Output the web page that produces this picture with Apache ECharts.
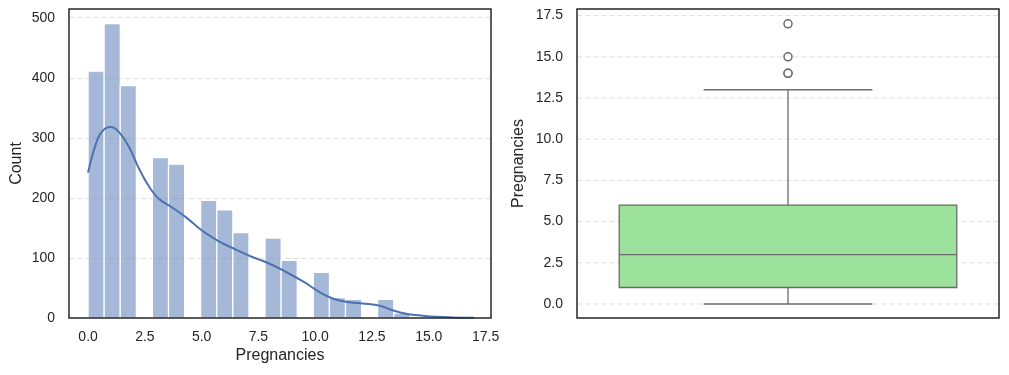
<!DOCTYPE html>
<html>
<head>
<meta charset="utf-8">
<script src="https://cdn.jsdelivr.net/npm/echarts@6/dist/echarts.min.js"></script>
<style>
  html, body { margin: 0; padding: 0; background: #fff; }
  #chart { width: 1009px; height: 375px; }
</style>
</head>
<body>
<div id="chart"></div>
<script>
// histogram of Pregnancies (24 bins over 0..17)
var binCount = 24;
var binMax = 17;
var binIndex = [0, 1, 2, 4, 5, 7, 8, 9, 11, 12, 14, 15, 16, 18, 19, 21, 23];
var counts = [411, 490, 387, 267, 256, 196, 180, 142, 133, 96, 76, 34, 31, 31, 8, 2, 2];

// kde curve (in count units)
var kdeX = [0, 0.3, 0.6, 1.0, 1.35, 1.8, 2.2, 2.65, 3.1, 3.7, 4.3, 5.0, 5.7, 6.5, 7.2, 7.9,
  8.7, 9.5, 10.2, 10.8, 11.4, 12.1, 12.85, 13.4, 14.0, 14.6, 15.3, 16.0, 17.0];
var kdeY = [242, 285, 310, 318, 310, 285, 252, 221, 199, 184, 168, 146, 129, 114, 102, 92,
  77, 60, 43, 32, 26.5, 24, 20.5, 13, 7, 4.4, 2, 1, 0.5];

// boxplot: whisker low, q1, median, q3, whisker high
var boxStats = [0, 1, 3, 6, 13];
var outliers = [14, 14, 15, 17];

// tick labels for the axes whose range does not start on a tick
var histXTicks = [0, 2.5, 5, 7.5, 10, 12.5, 15, 17.5];
var boxYTicks = [0, 2.5, 5, 7.5, 10, 12.5, 15, 17.5];

var textColor = '#262626';
var gridColor = '#dedede';
var lineGray = '#6b6b6b';
var font = 'Liberation Sans, Arial, sans-serif';
var tickFont = '14px ' + font;

var binWidth = binMax / binCount;
var histData = binIndex.map(function (b, i) {
  return [b * binWidth, (b + 1) * binWidth, counts[i]];
});
var kdeData = kdeX.map(function (x, i) { return [x, kdeY[i]]; });
var outlierData = outliers.map(function (v) { return [0, v]; });

var chart = echarts.init(document.getElementById('chart'));

var labelStyle = { color: textColor, fontSize: 14, fontFamily: font };
var nameStyle = { color: textColor, fontSize: 16, fontFamily: font };
var hidden = { show: false };

var option = {
  animation: false,
  grid: [
    { left: 69, top: 9, width: 422, height: 309 },
    { left: 577, top: 9, width: 422, height: 309 }
  ],
  graphic: [
    { type: 'rect', z: 100, silent: true,
      shape: { x: 69, y: 9, width: 422, height: 309 }, style: { fill: null, stroke: '#262626', lineWidth: 1.5 } },
    { type: 'rect', z: 100, silent: true,
      shape: { x: 577, y: 9, width: 422, height: 309 }, style: { fill: null, stroke: '#262626', lineWidth: 1.5 } }
  ],
  xAxis: [
    {
      gridIndex: 0, type: 'value', min: -0.84, max: 17.74,
      axisLine: hidden, axisTick: hidden, splitLine: hidden, axisLabel: hidden,
      name: 'Pregnancies', nameLocation: 'middle', nameGap: 30, nameTextStyle: nameStyle
    },
    {
      gridIndex: 1, type: 'value', min: -0.5, max: 0.5,
      axisLine: hidden, axisTick: hidden, splitLine: hidden, axisLabel: hidden
    }
  ],
  yAxis: [
    {
      gridIndex: 0, type: 'value', min: 0, max: 514.5, interval: 100,
      axisLine: hidden, axisTick: hidden,
      splitLine: { show: true, showMinLine: false, showMaxLine: false,
        lineStyle: { color: gridColor, type: [5, 3], width: 1 } },
      axisLabel: Object.assign({ margin: 14, showMaxLabel: false }, labelStyle),
      name: 'Count', nameLocation: 'middle', nameGap: 44, nameTextStyle: nameStyle
    },
    {
      gridIndex: 1, type: 'value', min: -0.85, max: 17.9,
      axisLine: hidden, axisTick: hidden, splitLine: hidden, axisLabel: hidden,
      name: 'Pregnancies', nameLocation: 'middle', nameGap: 50, nameTextStyle: nameStyle
    }
  ],
  series: [
    {
      // x tick labels of the histogram
      type: 'custom', xAxisIndex: 0, yAxisIndex: 0, silent: true, clip: false,
      data: histXTicks.map(function (v) { return [v, 0]; }),
      encode: { x: 0, y: 1 },
      renderItem: function (params, api) {
        var p = api.coord([api.value(0), 0]);
        return {
          type: 'text', x: p[0], y: p[1] + 12,
          style: { text: api.value(0).toFixed(1), font: tickFont, fill: textColor,
            align: 'center', verticalAlign: 'top' }
        };
      }
    },
    {
      type: 'custom', xAxisIndex: 0, yAxisIndex: 0,
      data: histData,
      encode: { x: [0, 1], y: 2 },
      renderItem: function (params, api) {
        var p0 = api.coord([api.value(0), api.value(2)]);
        var p1 = api.coord([api.value(1), 0]);
        return {
          type: 'rect',
          shape: { x: p0[0], y: p0[1], width: p1[0] - p0[0], height: p1[1] - p0[1] },
          style: { fill: 'rgba(76,114,176,0.5)', stroke: '#ffffff', lineWidth: 1.2 }
        };
      }
    },
    {
      type: 'line', xAxisIndex: 0, yAxisIndex: 0,
      data: kdeData, smooth: 0.4, showSymbol: false,
      lineStyle: { color: '#4c72b0', width: 2 }, z: 3
    },
    {
      // y grid lines + tick labels of the boxplot
      type: 'custom', xAxisIndex: 1, yAxisIndex: 1, silent: true, clip: false, z: 1,
      data: boxYTicks.map(function (v) { return [0, v]; }),
      encode: { x: 0, y: 1 },
      renderItem: function (params, api) {
        var v = api.value(1);
        var l = api.coord([-0.5, v]), r = api.coord([0.5, v]);
        return {
          type: 'group',
          children: [
            { type: 'line', shape: { x1: l[0], y1: l[1], x2: r[0], y2: r[1] },
              style: { stroke: gridColor, lineWidth: 1, lineDash: [5, 3] } },
            { type: 'text', x: l[0] - 14, y: l[1],
              style: { text: v.toFixed(1), font: tickFont, fill: textColor,
                align: 'right', verticalAlign: 'middle' } }
          ]
        };
      }
    },
    {
      type: 'custom', xAxisIndex: 1, yAxisIndex: 1, z: 2,
      data: [[0].concat(boxStats)],
      encode: { x: 0, y: [1, 2, 3, 4, 5] },
      renderItem: function (params, api) {
        var lo = api.coord([0, api.value(1)]);
        var q1 = api.coord([0, api.value(2)]);
        var med = api.coord([0, api.value(3)]);
        var q3 = api.coord([0, api.value(4)]);
        var hi = api.coord([0, api.value(5)]);
        var bl = api.coord([-0.4, 0])[0], br = api.coord([0.4, 0])[0];
        var cl = api.coord([-0.2, 0])[0], cr = api.coord([0.2, 0])[0];
        var ls = { stroke: lineGray, lineWidth: 1.3 };
        return {
          type: 'group',
          children: [
            { type: 'line', shape: { x1: hi[0], y1: hi[1], x2: q3[0], y2: q3[1] }, style: ls },
            { type: 'line', shape: { x1: lo[0], y1: lo[1], x2: q1[0], y2: q1[1] }, style: ls },
            { type: 'line', shape: { x1: cl, y1: hi[1], x2: cr, y2: hi[1] }, style: ls },
            { type: 'line', shape: { x1: cl, y1: lo[1], x2: cr, y2: lo[1] }, style: ls },
            { type: 'rect', shape: { x: bl, y: q3[1], width: br - bl, height: q1[1] - q3[1] },
              style: { fill: '#9ce29c', stroke: lineGray, lineWidth: 1.3 } },
            { type: 'line', shape: { x1: bl, y1: med[1], x2: br, y2: med[1] }, style: ls }
          ]
        };
      }
    },
    {
      type: 'scatter', xAxisIndex: 1, yAxisIndex: 1, z: 3,
      data: outlierData, symbol: 'circle', symbolSize: 8,
      itemStyle: { color: '#ffffff', borderColor: lineGray, borderWidth: 1.5, opacity: 1 }
    }
  ]
};

chart.setOption(option);
</script>
</body>
</html>
